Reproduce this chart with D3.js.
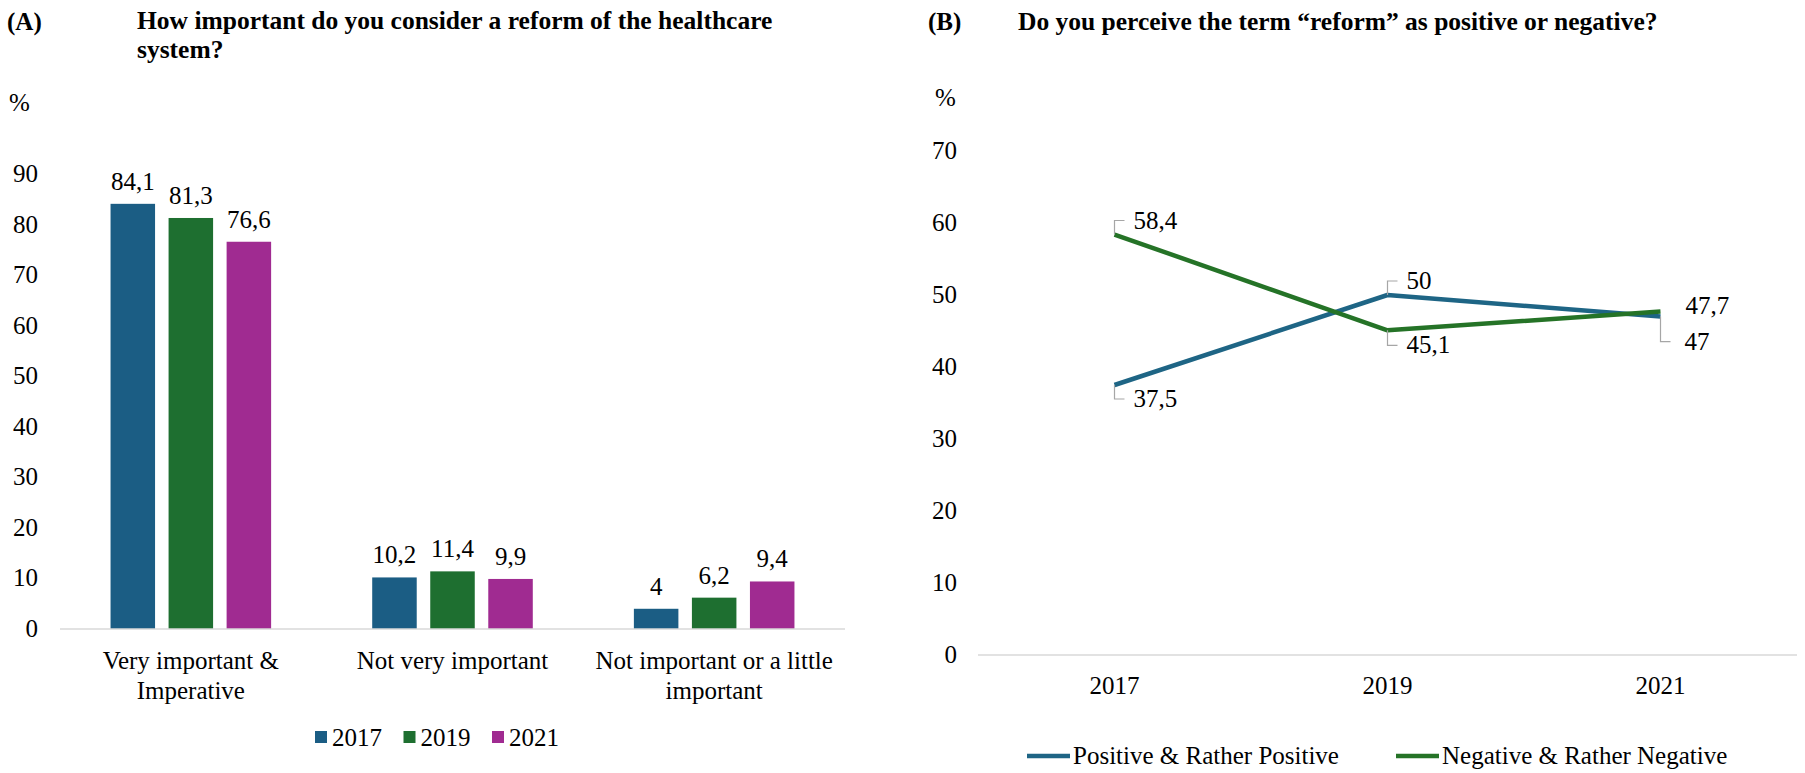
<!DOCTYPE html>
<html>
<head>
<meta charset="utf-8">
<script src="https://cdn.jsdelivr.net/npm/d3@7"></script>
<style>
  body { margin: 0; background: #fff; }
  svg text { font-family: "Liberation Serif", "Times New Roman", serif; fill: #000; }
</style>
</head>
<body>
<svg id="chart" width="1805" height="773"></svg>
<script>
// data, panel A
const categories = ['Very important & Imperative', 'Not very important', 'Not important or a little important'];
const catLines = [['Very important &', 'Imperative'], ['Not very important'], ['Not important or a little', 'important']];
const years = ['2017', '2019', '2021'];
const importance = {
    '2017': [84.1, 10.2, 4],
    '2019': [81.3, 11.4, 6.2],
    '2021': [76.6, 9.9, 9.4]
};
const barTicks = [0, 10, 20, 30, 40, 50, 60, 70, 80, 90];

// data, panel B
const seriesNames = ['Positive & Rather Positive', 'Negative & Rather Negative'];
const positive = [37.5, 50, 47];
const negative = [58.4, 45.1, 47.7];
const lineTicks = [0, 10, 20, 30, 40, 50, 60, 70];

const yearColor = d3.scaleOrdinal().domain(years).range(['#1b5d84', '#1e6f30', '#a02b91']);
const lineColor = ['#1e6585', '#257327'];
const fmt = v => String(v).replace('.', ',');

let svg = d3.select('#chart');

// ---------- Panel A: grouped bars ----------
let yA = d3.scaleLinear().domain([0, 90]).range([629, 174]);
let x0 = d3.scaleBand().domain(categories).range([60, 845]);
let x1 = d3.scaleBand().domain(years).range([0, x0.bandwidth()])
    .paddingInner(0.233).paddingOuter(0.871);

let gA = svg.append('g');

gA.append('text').attr('x', 7).attr('y', 30)
    .style('font-size', '25px').style('font-weight', 'bold').text('(A)');
gA.append('text').attr('x', 137).attr('y', 29)
    .style('font-size', '25.5px').style('font-weight', 'bold')
    .text('How important do you consider a reform of the healthcare');
gA.append('text').attr('x', 137).attr('y', 58)
    .style('font-size', '25.5px').style('font-weight', 'bold')
    .text('system?');
gA.append('text').attr('x', 9).attr('y', 111)
    .style('font-size', '25px').text('%');

gA.selectAll('.ytick')
    .data(barTicks)
    .join('text')
    .classed('ytick', true)
    .attr('x', 38)
    .attr('y', d => yA(d) + 8)
    .attr('text-anchor', 'end')
    .style('font-size', '25px')
    .text(d => d);

let barRows = [];
categories.forEach((c, i) => {
    years.forEach(yr => barRows.push({ cat: c, year: yr, value: importance[yr][i] }));
});

gA.selectAll('.bar')
    .data(barRows)
    .join('rect')
    .classed('bar', true)
    .attr('x', d => x0(d.cat) + x1(d.year))
    .attr('y', d => yA(d.value))
    .attr('width', x1.bandwidth())
    .attr('height', d => yA(0) - yA(d.value))
    .style('fill', d => yearColor(d.year));

gA.selectAll('.bar-label')
    .data(barRows)
    .join('text')
    .classed('bar-label', true)
    .attr('x', d => x0(d.cat) + x1(d.year) + x1.bandwidth() / 2)
    .attr('y', d => yA(d.value) - 14)
    .attr('text-anchor', 'middle')
    .style('font-size', '25px')
    .text(d => fmt(d.value));

gA.append('line')
    .attr('x1', 60).attr('x2', 845)
    .attr('y1', yA(0)).attr('y2', yA(0))
    .style('stroke', '#d9d9d9').style('stroke-width', 1.5);

categories.forEach((c, i) => {
    gA.append('text')
        .attr('x', x0(c) + x0.bandwidth() / 2)
        .attr('y', 669)
        .attr('text-anchor', 'middle')
        .style('font-size', '25px')
        .selectAll('tspan')
        .data(catLines[i])
        .join('tspan')
        .attr('x', x0(c) + x0.bandwidth() / 2)
        .attr('dy', (d, j) => j === 0 ? 0 : 30)
        .text(d => d);
});

// legend A
let legA = gA.append('g');
legA.selectAll('rect')
    .data(years)
    .join('rect')
    .attr('x', (d, i) => 315 + i * 88.5)
    .attr('y', 731)
    .attr('width', 12)
    .attr('height', 12)
    .style('fill', d => yearColor(d));
legA.selectAll('text')
    .data(years)
    .join('text')
    .attr('x', (d, i) => 332 + i * 88.5)
    .attr('y', 746)
    .style('font-size', '25px')
    .text(d => d);

// ---------- Panel B: lines ----------
let yB = d3.scaleLinear().domain([0, 70]).range([655, 151]);
let xB = d3.scalePoint().domain(years).range([978, 1797]).padding(0.5);

let gB = svg.append('g');

gB.append('text').attr('x', 928).attr('y', 30)
    .style('font-size', '25px').style('font-weight', 'bold').text('(B)');
gB.append('text').attr('x', 1018).attr('y', 30)
    .style('font-size', '25.5px').style('font-weight', 'bold')
    .text('Do you perceive the term \u201creform\u201d as positive or negative?');
gB.append('text').attr('x', 935).attr('y', 106)
    .style('font-size', '25px').text('%');

gB.selectAll('.ytick')
    .data(lineTicks)
    .join('text')
    .classed('ytick', true)
    .attr('x', 957)
    .attr('y', d => yB(d) + 8)
    .attr('text-anchor', 'end')
    .style('font-size', '25px')
    .text(d => d);

gB.append('line')
    .attr('x1', 978).attr('x2', 1797)
    .attr('y1', yB(0)).attr('y2', yB(0))
    .style('stroke', '#d9d9d9').style('stroke-width', 1.5);

gB.selectAll('.xtick')
    .data(years)
    .join('text')
    .classed('xtick', true)
    .attr('x', d => xB(d))
    .attr('y', 694)
    .attr('text-anchor', 'middle')
    .style('font-size', '25px')
    .text(d => d);

let series = [positive, negative];
let line = d3.line().x((d, i) => xB(years[i])).y(d => yB(d));

gB.selectAll('.series')
    .data(series)
    .join('path')
    .classed('series', true)
    .attr('d', d => line(d))
    .style('fill', 'none')
    .style('stroke', (d, i) => lineColor[i])
    .style('stroke-width', 4.5)
    .style('stroke-linejoin', 'round');

// data labels with leader lines: offset <0 above, >0 below, 0 = label beside the point
const labelOffsets = [[14, -14, 25], [-14, 15, 0]];
series.forEach((s, si) => {
    s.forEach((v, i) => {
        let px = xB(years[i]), py = yB(v), off = labelOffsets[si][i];
        if (off !== 0) {
            let ly = py + off;
            gB.append('path')
                .attr('d', `M${px},${py}V${ly}H${px + 10}`)
                .style('fill', 'none')
                .style('stroke', '#a6a6a6')
                .style('stroke-width', 1.2);
            gB.append('text')
                .attr('x', px + (i === 2 ? 24 : 19))
                .attr('y', ly + 8)
                .style('font-size', '25px')
                .text(fmt(v));
        } else {
            gB.append('text')
                .attr('x', px + 25)
                .attr('y', py + 2)
                .style('font-size', '25px')
                .text(fmt(v));
        }
    });
});

// legend B
let legB = gB.append('g');
const legBx = [1027, 1396];
legB.selectAll('line')
    .data(seriesNames)
    .join('line')
    .attr('x1', (d, i) => legBx[i])
    .attr('x2', (d, i) => legBx[i] + 43)
    .attr('y1', 756).attr('y2', 756)
    .style('stroke', (d, i) => lineColor[i])
    .style('stroke-width', 4.5);
legB.selectAll('text')
    .data(seriesNames)
    .join('text')
    .attr('x', (d, i) => legBx[i] + 46)
    .attr('y', 764)
    .style('font-size', '25px')
    .text(d => d);
</script>
</body>
</html>
